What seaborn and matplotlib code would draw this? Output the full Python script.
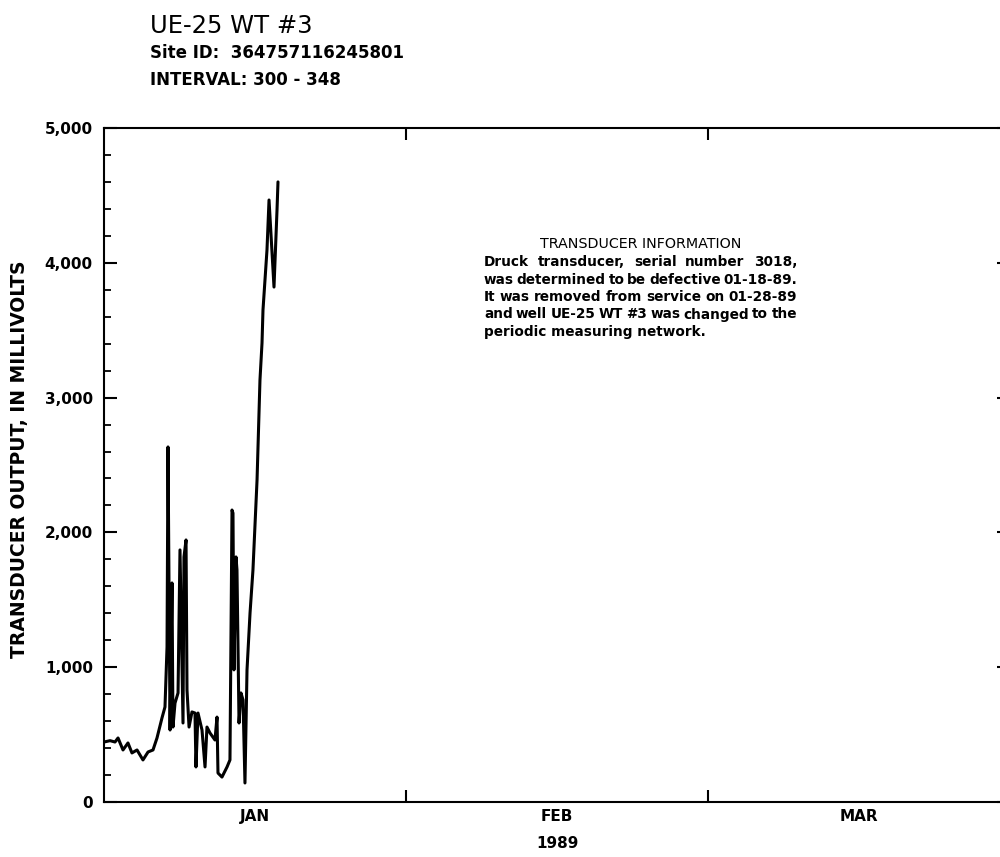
import numpy as np
import pandas as pd
import matplotlib
matplotlib.use("Agg")
import matplotlib.pyplot as plt
import seaborn as sns
from matplotlib.ticker import FixedLocator, MultipleLocator, FuncFormatter

# Transducer record, January 1989: elapsed days since Jan 1 and output in millivolts
days = [0.00, 0.62, 1.13, 1.44, 1.95, 2.46, 2.87, 3.39, 4.00, 4.52, 5.03, 5.44,
        5.95, 6.26, 6.47, 6.57, 6.78, 6.98, 7.08, 7.29, 7.60, 7.80, 8.11, 8.21,
        8.42, 8.52, 8.73, 9.03, 9.34, 9.44, 9.65, 10.06, 10.37, 10.57, 10.88,
        11.39, 11.60, 11.70, 12.11, 12.63, 12.93, 13.14, 13.24, 13.34, 13.55,
        13.65, 13.86, 14.06, 14.27, 14.47, 14.68, 14.99, 15.29, 15.71, 16.01,
        16.22, 16.32, 16.73, 16.94, 17.25, 17.45, 17.76, 17.86]
millivolts = [445, 455, 445, 475, 386, 438, 364, 386, 312, 371, 386, 475,
              623, 705, 1150, 2634, 534, 1625, 556, 734, 809, 1870, 586, 1818,
              1944, 831, 556, 668, 660, 260, 660, 534, 260, 556, 512,
              460, 630, 215, 185, 260, 312, 2166, 2143, 980, 1818,
              1721, 586, 809, 757, 141, 980, 1402, 1721, 2389, 3130,
              3405, 3650, 4095, 4466, 4073, 3820, 4392, 4600]

month_labels = ["JAN", "FEB", "MAR"]
jan_days = 31
y_major = [0, 1000, 2000, 3000, 4000, 5000]

title = "UE-25 WT #3"
site_line = "Site ID:  364757116245801"
interval_line = "INTERVAL: 300 - 348"
info_header = "TRANSDUCER INFORMATION"
info_lines = ["Druck transducer, serial number 3018,",
              "was determined to be defective 01-18-89.",
              "It was removed from service on 01-28-89",
              "and well UE-25 WT #3 was changed to the",
              "periodic measuring network."]

sns.set_style("ticks")
plt.rcParams["font.family"] = ["DejaVu Sans"]
plt.rcParams.update({"text.color": "black", "axes.labelcolor": "black",
                     "xtick.color": "black", "ytick.color": "black"})

W, H = 1000, 857
fig = plt.figure(figsize=(W / 100, H / 100), dpi=100)
ax = fig.add_axes([104 / W, 1 - 802 / H, 906 / W, 674 / H])

# x runs in month units: 0 = Jan 1, 1 = Feb 1, 2 = Mar 1, 3 = Apr 1
df = pd.DataFrame({"month_pos": np.array(days) / jan_days, "mv": millivolts})
sns.lineplot(data=df, x="month_pos", y="mv", ax=ax, color="black",
             linewidth=2.2, sort=False, estimator=None)

ax.set_xlim(0, 3)
ax.set_ylim(0, 5000)

for s in ax.spines.values():
    s.set_linewidth(1.5)
    s.set_color("black")

# y axis: labelled thousands, minor every 200
ax.yaxis.set_major_locator(FixedLocator(y_major))
ax.yaxis.set_minor_locator(MultipleLocator(200))
ax.yaxis.set_major_formatter(FuncFormatter(lambda v, p: f"{int(v):,}"))
ax.tick_params(axis="y", which="major", direction="in", length=9.5, width=1.5,
               left=True, right=True, labelsize=11, pad=8)
ax.tick_params(axis="y", which="minor", direction="in", length=5, width=1.3,
               left=True, right=False)
for lbl in ax.get_yticklabels():
    lbl.set_fontweight("bold")

# x axis: month boundaries as ticks, month names centred between them
ax.set_xticks([1, 2])
ax.set_xticklabels([])
ax.set_xticks([0.5, 1.5, 2.5], minor=True)
ax.set_xticklabels(month_labels, minor=True, fontweight="bold", fontsize=11)
ax.tick_params(axis="x", which="major", direction="in", length=8.5, width=1.5,
               top=True, bottom=True)
ax.tick_params(axis="x", which="minor", length=0, pad=5, top=False)

ax.set_xlabel("1989", fontsize=11, fontweight="bold")
ax.xaxis.set_label_coords(0.5, -0.05)
ax.set_ylabel("TRANSDUCER OUTPUT, IN MILLIVOLTS", fontsize=13.5,
              fontweight="bold")
ax.yaxis.set_label_coords(-0.083, 0.509)


def fx(px):
    return px / W


def fy(py):
    return 1 - py / H


fig.text(fx(150), fy(33), title, fontsize=17.5, va="baseline", ha="left")
fig.text(fx(150), fy(58), site_line, fontsize=12, fontweight="bold",
         va="baseline", ha="left")
fig.text(fx(150), fy(85), interval_line, fontsize=12, fontweight="bold",
         va="baseline", ha="left")

# Information block: centred heading, justified paragraph
box_left, box_right = 484, 797
fig.text(fx((box_left + box_right) / 2), fy(248), info_header, fontsize=10.3,
         va="baseline", ha="center")

renderer = fig.canvas.get_renderer()
body_fs = 9.8
baselines = [266, 283.5, 301, 318.5, 336]
for i, (line, base) in enumerate(zip(info_lines, baselines)):
    if i == len(info_lines) - 1:
        fig.text(fx(box_left), fy(base), line, fontsize=body_fs,
                 fontweight="bold", va="baseline", ha="left")
        continue
    words = line.split(" ")
    items = [fig.text(0, fy(base), w, fontsize=body_fs, fontweight="bold",
                      va="baseline", ha="left") for w in words]
    widths = [t.get_window_extent(renderer).width for t in items]
    gap = (box_right - box_left - sum(widths)) / (len(words) - 1)
    x = box_left
    for t, w in zip(items, widths):
        t.set_x(fx(x))
        x += w + gap

fig.savefig("out.png", dpi=100)
